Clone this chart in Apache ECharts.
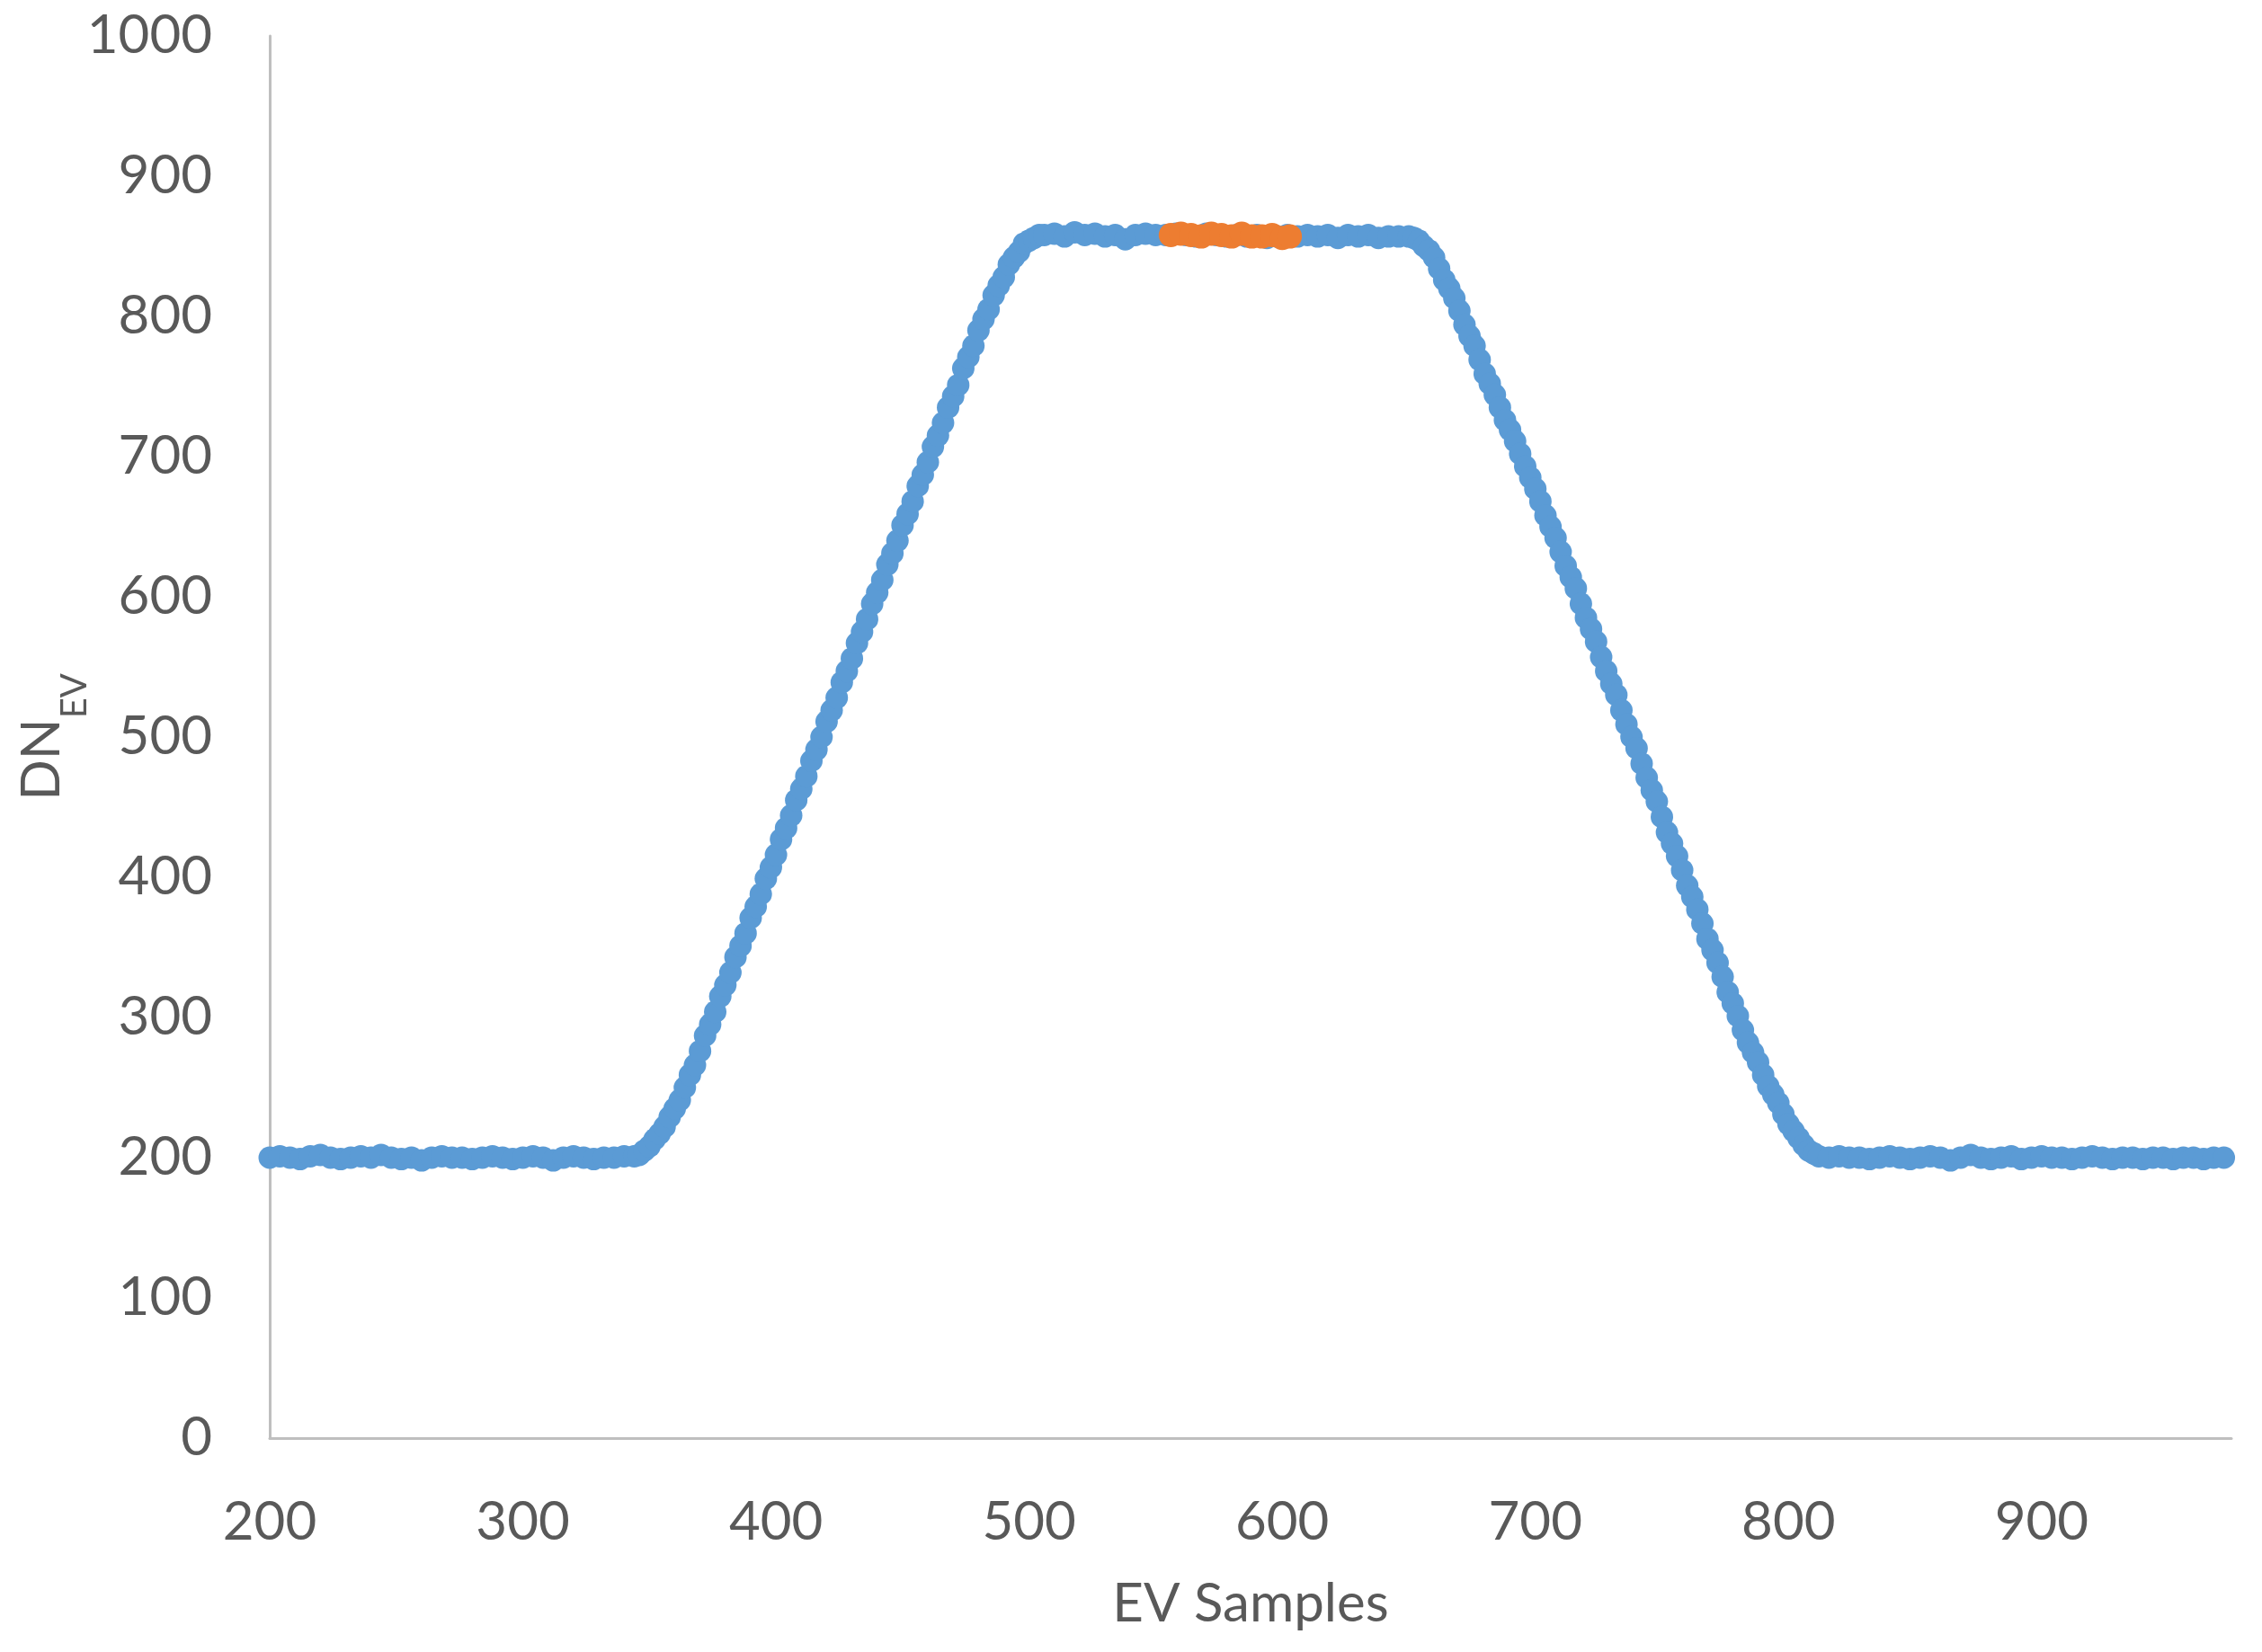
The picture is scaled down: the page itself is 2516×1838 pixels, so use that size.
<!DOCTYPE html>
<html>
<head>
<meta charset="utf-8">
<script src="https://cdn.jsdelivr.net/npm/echarts@6/dist/echarts.min.js"></script>
<style>
  html, body { margin: 0; padding: 0; background: #fff; }
  #chart { width: 2516px; height: 1838px; }
</style>
</head>
<body>
<div id="chart"></div>
<script>
// EV samples vs DN_EV as [sample, DN] pairs
const leftBase = [
  [200, 200], [204, 201], [208, 200], [212, 199], [216, 201], [220, 202], [224, 200], [228, 199],
  [232, 200], [236, 201], [240, 200], [244, 202], [248, 200], [252, 199], [256, 200], [260, 198],
  [264, 200], [268, 201], [272, 200], [276, 200], [280, 199], [284, 200], [288, 201], [292, 200],
  [296, 199], [300, 200], [304, 201], [308, 200], [312, 198], [316, 200], [320, 201], [324, 200],
  [328, 199], [332, 200], [336, 200], [340, 201], [344, 201]
];
const riseEdge = [
  [346, 202], [348, 205], [350, 208], [352, 213], [354, 217], [356, 222], [358, 229], [360, 235],
  [362, 241], [364, 250], [366, 259], [368, 266], [370, 276], [372, 287], [374, 295], [376, 304],
  [378, 315], [380, 323], [382, 332], [384, 343], [386, 351], [388, 360], [390, 371], [392, 379],
  [394, 388], [396, 399], [398, 407], [400, 416], [402, 427], [404, 435], [406, 444], [408, 455],
  [410, 463], [412, 472], [414, 483], [416, 491], [418, 500], [420, 511], [422, 519], [424, 528],
  [426, 539], [428, 547], [430, 556], [432, 567], [434, 575], [436, 584], [438, 595], [440, 603],
  [442, 612], [444, 623], [446, 631], [448, 640], [450, 651], [452, 659], [454, 668], [456, 679],
  [458, 687], [460, 696], [462, 707], [464, 715], [466, 724], [468, 735], [470, 743], [472, 751],
  [474, 763], [476, 771], [478, 779], [480, 790], [482, 798], [484, 805], [486, 815], [488, 822],
  [490, 828], [492, 837], [494, 842], [496, 846], [498, 852], [500, 854], [502, 856], [504, 858]
];
const plateau = [
  [506, 858], [510, 859], [514, 857], [518, 860], [522, 858], [526, 859], [530, 857], [534, 858],
  [538, 855], [542, 858], [546, 859], [550, 858], [554, 858], [558, 859], [562, 858], [566, 857],
  [570, 859], [574, 858], [578, 857], [582, 858], [586, 857], [590, 858], [594, 856], [598, 857],
  [602, 858], [606, 857], [610, 858], [614, 857], [618, 858], [622, 856], [626, 858], [630, 857],
  [634, 858], [638, 856], [642, 857], [646, 857], [650, 857]
];
const fallEdge = [
  [652, 856], [654, 854], [656, 850], [658, 847], [660, 842], [662, 834], [664, 826], [666, 820],
  [668, 813], [670, 804], [672, 794], [674, 786], [676, 779], [678, 769], [680, 759], [682, 752],
  [684, 744], [686, 735], [688, 726], [690, 719], [692, 711], [694, 702], [696, 693], [698, 685],
  [700, 677], [702, 668], [704, 658], [706, 650], [708, 642], [710, 632], [712, 622], [714, 614],
  [716, 606], [718, 595], [720, 585], [722, 577], [724, 568], [726, 557], [728, 547], [730, 538],
  [732, 530], [734, 519], [736, 509], [738, 500], [740, 492], [742, 481], [744, 471], [746, 462],
  [748, 454], [750, 443], [752, 432], [754, 424], [756, 415], [758, 405], [760, 394], [762, 386],
  [764, 377], [766, 367], [768, 356], [770, 348], [772, 339], [774, 329], [776, 318], [778, 310],
  [780, 301], [782, 291], [784, 282], [786, 275], [788, 268], [790, 259], [792, 251], [794, 245],
  [796, 239], [798, 231], [800, 224], [802, 219], [804, 214], [806, 209], [808, 205], [810, 203],
  [812, 201]
];
const rightBase = [
  [816, 200], [820, 201], [824, 200], [828, 200], [832, 199], [836, 200], [840, 201], [844, 200],
  [848, 199], [852, 200], [856, 201], [860, 200], [864, 198], [868, 200], [872, 202], [876, 200],
  [880, 199], [884, 200], [888, 201], [892, 199], [896, 200], [900, 201], [904, 200], [908, 200],
  [912, 199], [916, 200], [920, 201], [924, 200], [928, 199], [932, 200], [936, 200], [940, 199],
  [944, 200], [948, 200], [952, 199], [956, 200], [960, 200], [964, 199], [968, 200], [972, 200]
];
// the highlighted (orange) stretch on the plateau
const selected = [
  [556, 858], [560, 859], [564, 858], [568, 857], [572, 859], [576, 858], [580, 857], [584, 859],
  [588, 857], [592, 857], [596, 858], [600, 856], [603, 857]
];

const xTicks = { min: 200, max: 975, interval: 100 };
const yTicks = { min: 0, max: 1000, interval: 100 };

const evPoints = [].concat(leftBase, riseEdge, plateau, fallEdge, rightBase);

const FONT = "Lato";
const TEXT = "#595959";
const AXIS = "#bfbfbf";

const chart = echarts.init(document.getElementById("chart"), null, { renderer: "canvas" });

chart.setOption({
  animation: false,
  backgroundColor: "#fff",
  grid: {
    left: 300, right: 34, top: 40, bottom: 238,
    containLabel: false,
    outerBoundsMode: "none"
  },
  xAxis: {
    type: "value",
    min: xTicks.min,
    max: xTicks.max,
    interval: xTicks.interval,
    name: "EV Samples",
    nameLocation: "middle",
    nameGap: 155,
    nameMoveOverlap: false,
    nameTextStyle: { color: TEXT, fontFamily: FONT, fontSize: 60 },
    axisLine: { show: true, lineStyle: { color: AXIS, width: 3 } },
    axisTick: { show: false },
    splitLine: { show: false },
    axisLabel: {
      color: TEXT, fontFamily: FONT, fontSize: 60, margin: 64, showMaxLabel: false,
      formatter: (v) => String(v)
    }
  },
  yAxis: {
    type: "value",
    min: yTicks.min,
    max: yTicks.max,
    interval: yTicks.interval,
    name: "{m|DN}{s|EV}",
    nameLocation: "middle",
    nameGap: 197,
    nameMoveOverlap: false,
    nameTextStyle: {
      color: TEXT,
      fontFamily: FONT,
      rich: {
        m: { fontSize: 60, fontFamily: FONT, color: TEXT, lineHeight: 86, verticalAlign: "top" },
        s: { fontSize: 40, fontFamily: FONT, color: TEXT, lineHeight: 40, verticalAlign: "bottom" }
      }
    },
    axisLine: { show: true, lineStyle: { color: AXIS, width: 3 } },
    axisTick: { show: false },
    splitLine: { show: false },
    axisLabel: {
      color: TEXT, fontFamily: FONT, fontSize: 60, margin: 64,
      formatter: (v) => String(v)
    }
  },
  series: [
    {
      name: "EV",
      type: "scatter",
      data: evPoints,
      symbol: "circle",
      symbolSize: 25,
      itemStyle: { color: "#5b9bd5", opacity: 1 },
      silent: true
    },
    {
      name: "Selected",
      type: "scatter",
      data: selected,
      symbol: "circle",
      symbolSize: 27,
      itemStyle: { color: "#ed7d31", opacity: 1 },
      silent: true,
      z: 3
    }
  ]
});
</script>
</body>
</html>
